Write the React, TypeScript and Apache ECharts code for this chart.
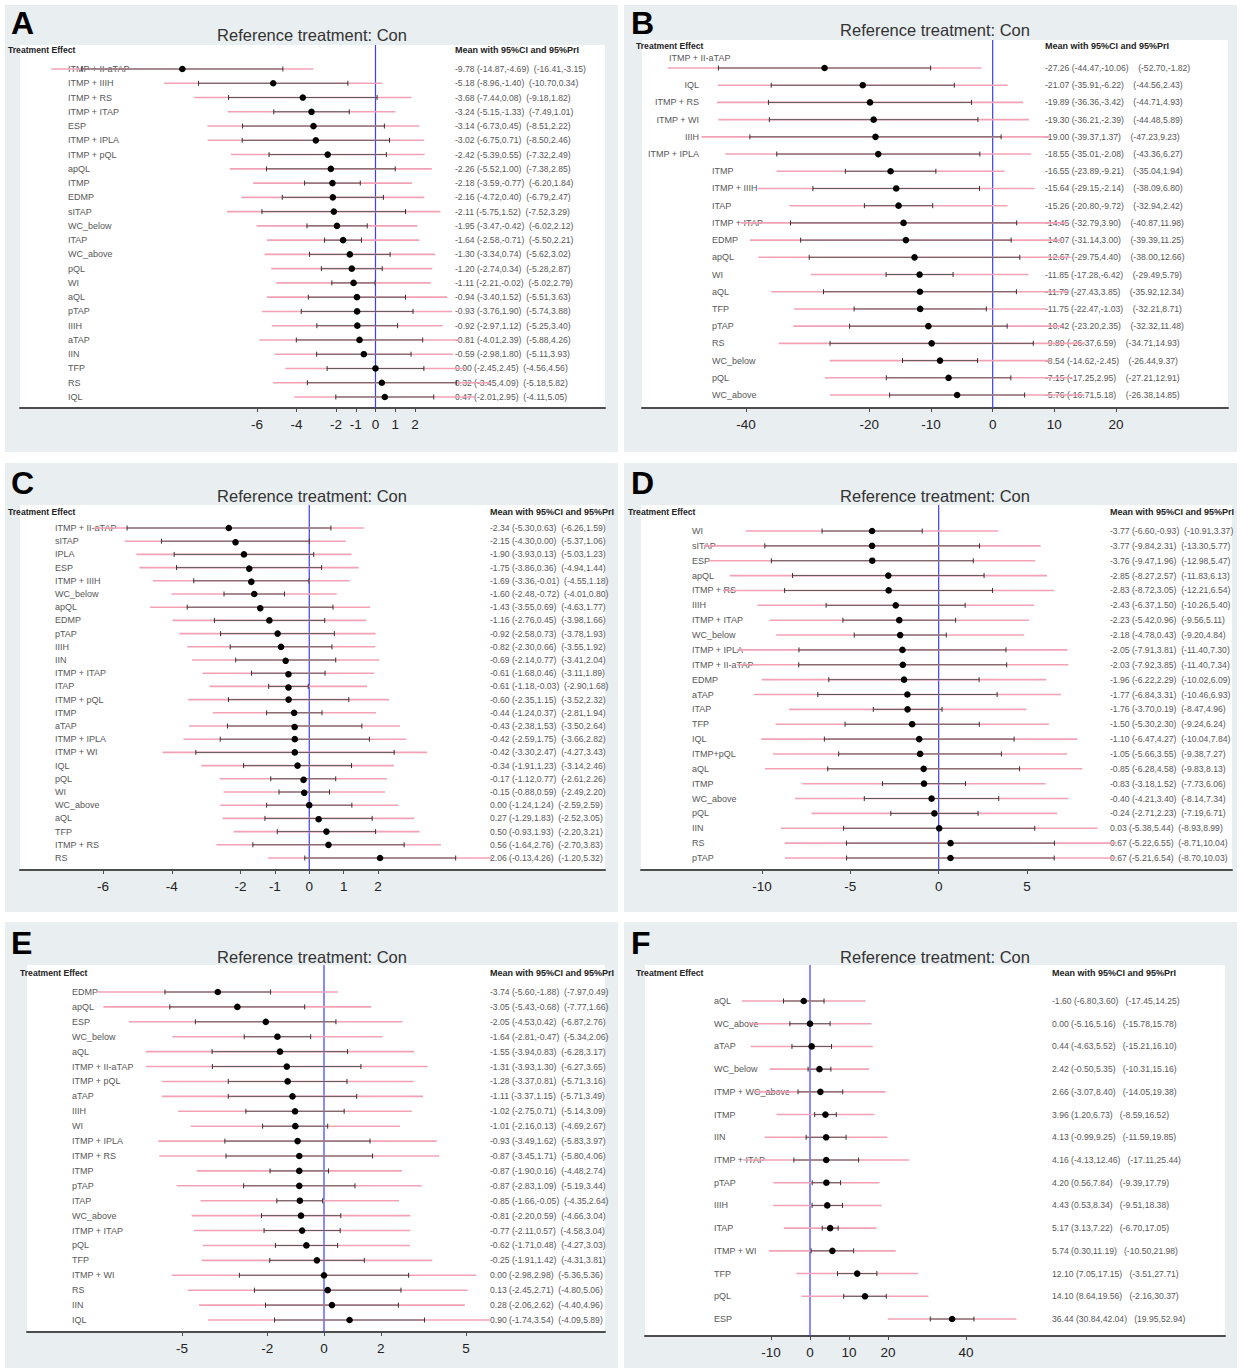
import React, { useEffect, useRef } from "react";
import * as echarts from "echarts";

// ---------- DATA ----------
// each est row: [mean, ciLow, ciHigh, priLow, priHigh]
const A_NAMES = ["ITMP + II-aTAP", "ITMP + IIIH", "ITMP + RS", "ITMP + ITAP", "ESP", "ITMP + IPLA", "ITMP + pQL", "apQL", "ITMP", "EDMP", "sITAP", "WC_below", "ITAP", "WC_above", "pQL", "WI", "aQL", "pTAP", "IIIH", "aTAP", "IIN", "TFP", "RS", "IQL"];
const A_EST = [
  [-9.78, -14.87, -4.69, -16.41, -3.15], [-5.18, -8.96, -1.4, -10.7, 0.34], [-3.68, -7.44, 0.08, -9.18, 1.82],
  [-3.24, -5.15, -1.33, -7.49, 1.01], [-3.14, -6.73, 0.45, -8.51, 2.22], [-3.02, -6.75, 0.71, -8.5, 2.46],
  [-2.42, -5.39, 0.55, -7.32, 2.49], [-2.26, -5.52, 1.0, -7.38, 2.85], [-2.18, -3.59, -0.77, -6.2, 1.84],
  [-2.16, -4.72, 0.4, -6.79, 2.47], [-2.11, -5.75, 1.52, -7.52, 3.29], [-1.95, -3.47, -0.42, -6.02, 2.12],
  [-1.64, -2.58, -0.71, -5.5, 2.21], [-1.3, -3.34, 0.74, -5.62, 3.02], [-1.2, -2.74, 0.34, -5.28, 2.87],
  [-1.11, -2.21, -0.02, -5.02, 2.79], [-0.94, -3.4, 1.52, -5.51, 3.63], [-0.93, -3.76, 1.9, -5.74, 3.88],
  [-0.92, -2.97, 1.12, -5.25, 3.4], [-0.81, -4.01, 2.39, -5.88, 4.26], [-0.59, -2.98, 1.8, -5.11, 3.93],
  [0.0, -2.45, 2.45, -4.56, 4.56], [0.32, -3.45, 4.09, -5.18, 5.82], [0.47, -2.01, 2.95, -4.11, 5.05],
];
const A_TICKS = [-6, -4, -2, -1, 0, 1, 2];

const B_NAMES = ["ITMP + II-aTAP", "IQL", "ITMP + RS", "ITMP + WI", "IIIH", "ITMP + IPLA", "ITMP", "ITMP + IIIH", "ITAP", "ITMP + ITAP", "EDMP", "apQL", "WI", "aQL", "TFP", "pTAP", "RS", "WC_below", "pQL", "WC_above"];
const B_EST = [
  [-27.26, -44.47, -10.06, -52.7, -1.82], [-21.07, -35.91, -6.22, -44.56, 2.43], [-19.89, -36.36, -3.42, -44.71, 4.93],
  [-19.3, -36.21, -2.39, -44.48, 5.89], [-19.0, -39.37, 1.37, -47.23, 9.23], [-18.55, -35.01, -2.08, -43.36, 6.27],
  [-16.55, -23.89, -9.21, -35.04, 1.94], [-15.64, -29.15, -2.14, -38.09, 6.8], [-15.26, -20.8, -9.72, -32.94, 2.42],
  [-14.45, -32.79, 3.9, -40.87, 11.98], [-14.07, -31.14, 3.0, -39.39, 11.25], [-12.67, -29.75, 4.4, -38.0, 12.66],
  [-11.85, -17.28, -6.42, -29.49, 5.79], [-11.79, -27.43, 3.85, -35.92, 12.34], [-11.75, -22.47, -1.03, -32.21, 8.71],
  [-10.42, -23.2, 2.35, -32.32, 11.48], [-9.89, -26.37, 6.59, -34.71, 14.93], [-8.54, -14.62, -2.45, -26.44, 9.37],
  [-7.15, -17.25, 2.95, -27.21, 12.91], [-5.76, -16.71, 5.18, -26.38, 14.85],
];
const B_TICKS = [-40, -20, -10, 0, 10, 20];

const C_NAMES = ["ITMP + II-aTAP", "sITAP", "IPLA", "ESP", "ITMP + IIIH", "WC_below", "apQL", "EDMP", "pTAP", "IIIH", "IIN", "ITMP + ITAP", "ITAP", "ITMP + pQL", "ITMP", "aTAP", "ITMP + IPLA", "ITMP + WI", "IQL", "pQL", "WI", "WC_above", "aQL", "TFP", "ITMP + RS", "RS"];
const C_EST = [
  [-2.34, -5.3, 0.63, -6.26, 1.59], [-2.15, -4.3, 0.0, -5.37, 1.06], [-1.9, -3.93, 0.13, -5.03, 1.23],
  [-1.75, -3.86, 0.36, -4.94, 1.44], [-1.69, -3.36, -0.01, -4.55, 1.18], [-1.6, -2.48, -0.72, -4.01, 0.8],
  [-1.43, -3.55, 0.69, -4.63, 1.77], [-1.16, -2.76, 0.45, -3.98, 1.66], [-0.92, -2.58, 0.73, -3.78, 1.93],
  [-0.82, -2.3, 0.66, -3.55, 1.92], [-0.69, -2.14, 0.77, -3.41, 2.04], [-0.61, -1.68, 0.46, -3.11, 1.89],
  [-0.61, -1.18, -0.03, -2.9, 1.68], [-0.6, -2.35, 1.15, -3.52, 2.32], [-0.44, -1.24, 0.37, -2.81, 1.94],
  [-0.43, -2.38, 1.53, -3.5, 2.64], [-0.42, -2.59, 1.75, -3.66, 2.82], [-0.42, -3.3, 2.47, -4.27, 3.43],
  [-0.34, -1.91, 1.23, -3.14, 2.46], [-0.17, -1.12, 0.77, -2.61, 2.26], [-0.15, -0.88, 0.59, -2.49, 2.2],
  [0.0, -1.24, 1.24, -2.59, 2.59], [0.27, -1.29, 1.83, -2.52, 3.05], [0.5, -0.93, 1.93, -2.2, 3.21],
  [0.56, -1.64, 2.76, -2.7, 3.83], [2.06, -0.13, 4.26, -1.2, 5.32],
];
const C_TICKS = [-6, -4, -2, -1, 0, 1, 2];

const D_NAMES = ["WI", "sITAP", "ESP", "apQL", "ITMP + RS", "IIIH", "ITMP + ITAP", "WC_below", "ITMP + IPLA", "ITMP + II-aTAP", "EDMP", "aTAP", "ITAP", "TFP", "IQL", "ITMP+pQL", "aQL", "ITMP", "WC_above", "pQL", "IIN", "RS", "pTAP"];
const D_EST = [
  [-3.77, -6.6, -0.93, -10.91, 3.37], [-3.77, -9.84, 2.31, -13.3, 5.77], [-3.76, -9.47, 1.96, -12.98, 5.47],
  [-2.85, -8.27, 2.57, -11.83, 6.13], [-2.83, -8.72, 3.05, -12.21, 6.54], [-2.43, -6.37, 1.5, -10.26, 5.4],
  [-2.23, -5.42, 0.96, -9.56, 5.11], [-2.18, -4.78, 0.43, -9.2, 4.84], [-2.05, -7.91, 3.81, -11.4, 7.3],
  [-2.03, -7.92, 3.85, -11.4, 7.34], [-1.96, -6.22, 2.29, -10.02, 6.09], [-1.77, -6.84, 3.31, -10.46, 6.93],
  [-1.76, -3.7, 0.19, -8.47, 4.96], [-1.5, -5.3, 2.3, -9.24, 6.24], [-1.1, -6.47, 4.27, -10.04, 7.84],
  [-1.05, -5.66, 3.55, -9.38, 7.27], [-0.85, -6.28, 4.58, -9.83, 8.13], [-0.83, -3.18, 1.52, -7.73, 6.06],
  [-0.4, -4.21, 3.4, -8.14, 7.34], [-0.24, -2.71, 2.23, -7.19, 6.71], [0.03, -5.38, 5.44, -8.93, 8.99],
  [0.67, -5.22, 6.55, -8.71, 10.04], [0.67, -5.21, 6.54, -8.7, 10.03],
];
const D_TICKS = [-10, -5, 0, 5];

const E_NAMES = ["EDMP", "apQL", "ESP", "WC_below", "aQL", "ITMP + II-aTAP", "ITMP + pQL", "aTAP", "IIIH", "WI", "ITMP + IPLA", "ITMP + RS", "ITMP", "pTAP", "ITAP", "WC_above", "ITMP + ITAP", "pQL", "TFP", "ITMP + WI", "RS", "IIN", "IQL"];
const E_EST = [
  [-3.74, -5.6, -1.88, -7.97, 0.49], [-3.05, -5.43, -0.68, -7.77, 1.66], [-2.05, -4.53, 0.42, -6.87, 2.76],
  [-1.64, -2.81, -0.47, -5.34, 2.06], [-1.55, -3.94, 0.83, -6.28, 3.17], [-1.31, -3.93, 1.3, -6.27, 3.65],
  [-1.28, -3.37, 0.81, -5.71, 3.16], [-1.11, -3.37, 1.15, -5.71, 3.49], [-1.02, -2.75, 0.71, -5.14, 3.09],
  [-1.01, -2.16, 0.13, -4.69, 2.67], [-0.93, -3.49, 1.62, -5.83, 3.97], [-0.87, -3.45, 1.71, -5.8, 4.06],
  [-0.87, -1.9, 0.16, -4.48, 2.74], [-0.87, -2.83, 1.09, -5.19, 3.44], [-0.85, -1.66, -0.05, -4.35, 2.64],
  [-0.81, -2.2, 0.59, -4.66, 3.04], [-0.77, -2.11, 0.57, -4.58, 3.04], [-0.62, -1.71, 0.48, -4.27, 3.03],
  [-0.25, -1.91, 1.42, -4.31, 3.81], [0.0, -2.98, 2.98, -5.36, 5.36], [0.13, -2.45, 2.71, -4.8, 5.06],
  [0.28, -2.06, 2.62, -4.4, 4.96], [0.9, -1.74, 3.54, -4.09, 5.89],
];
const E_TICKS = [-5, -2, 0, 2, 5];

const F_NAMES = ["aQL", "WC_above", "aTAP", "WC_below", "ITMP + WC_above", "ITMP", "IIN", "ITMP + ITAP", "pTAP", "IIIH", "ITAP", "ITMP + WI", "TFP", "pQL", "ESP"];
const F_EST = [
  [-1.6, -6.8, 3.6, -17.45, 14.25], [0.0, -5.16, 5.16, -15.78, 15.78], [0.44, -4.63, 5.52, -15.21, 16.1],
  [2.42, -0.5, 5.35, -10.31, 15.16], [2.66, -3.07, 8.4, -14.05, 19.38], [3.96, 1.2, 6.73, -8.59, 16.52],
  [4.13, -0.99, 9.25, -11.59, 19.85], [4.16, -4.13, 12.46, -17.11, 25.44], [4.2, 0.56, 7.84, -9.39, 17.79],
  [4.43, 0.53, 8.34, -9.51, 18.38], [5.17, 3.13, 7.22, -6.7, 17.05], [5.74, 0.3, 11.19, -10.5, 21.98],
  [12.1, 7.05, 17.15, -3.51, 27.71], [14.1, 8.64, 19.56, -2.16, 30.37], [36.44, 30.84, 42.04, 19.95, 52.94],
];
const F_TICKS = [-10, 0, 10, 20, 40];

const TITLE = "Reference treatment: Con";
const HEADER_LEFT = "Treatment Effect";
const HEADER_RIGHT = "Mean with 95%CI and 95%PrI";

// ---------- LAYOUT / STYLE ----------
const FONT = "'Liberation Sans', Arial, sans-serif";
const PINK = "#f2a2b4";
const BLUE = "#3c3cff";
const PANEL_BG = "#e9eef1";

type Layout = {
  box: [number, number, number, number];
  gl: number; gr: number; gt: number; gb: number;
  t1: [number, number]; t2: [number, number];
  y0: number; yN: number;
  labelX: number; valX: number; valGap: string;
  hdrY: number; hdrLX: number;
  titleX: number; titleY: number;
  letterX: number; letterY: number;
  rightRows?: number; rightX?: number; firstX?: number;
};

const PANELS: { letter: string; names: string[]; est: number[][]; ticks: number[]; L: Layout }[] = [
  { letter: "A", names: A_NAMES, est: A_EST, ticks: A_TICKS, L: { box: [5, 5, 613, 447], gl: 20, gr: 605, gt: 45, gb: 408, t1: [-6, 257], t2: [2, 415], y0: 69, yN: 397, labelX: 68, valX: 455, valGap: "\u00a0 ", hdrY: 50, hdrLX: 8, titleX: 312, titleY: 35, letterX: 11, letterY: 7 } },
  { letter: "B", names: B_NAMES, est: B_EST, ticks: B_TICKS, L: { box: [624, 5, 613, 447], gl: 642, gr: 1228, gt: 40, gb: 408, t1: [-40, 746], t2: [20, 1116], y0: 68, yN: 395, labelX: 712, valX: 1045, valGap: "\u00a0\u00a0\u00a0 ", hdrY: 46, hdrLX: 636, titleX: 935, titleY: 30, letterX: 631, letterY: 7, rightRows: 6, rightX: 699, firstX: 669 } },
  { letter: "C", names: C_NAMES, est: C_EST, ticks: C_TICKS, L: { box: [5, 463, 613, 449], gl: 20, gr: 605, gt: 505, gb: 870, t1: [-6, 103], t2: [2, 378], y0: 528, yN: 858, labelX: 55, valX: 490, valGap: "\u00a0 ", hdrY: 512, hdrLX: 8, titleX: 312, titleY: 496, letterX: 11, letterY: 467 } },
  { letter: "D", names: D_NAMES, est: D_EST, ticks: D_TICKS, L: { box: [624, 463, 613, 449], gl: 641, gr: 1232, gt: 505, gb: 870, t1: [-10, 762], t2: [5, 1027], y0: 531, yN: 858, labelX: 692, valX: 1110, valGap: "\u00a0 ", hdrY: 512, hdrLX: 628, titleX: 935, titleY: 496, letterX: 631, letterY: 467 } },
  { letter: "E", names: E_NAMES, est: E_EST, ticks: E_TICKS, L: { box: [5, 922, 613, 446], gl: 27, gr: 605, gt: 965, gb: 1332, t1: [-5, 182], t2: [5, 466], y0: 992, yN: 1320, labelX: 72, valX: 490, valGap: "\u00a0 ", hdrY: 973, hdrLX: 20, titleX: 312, titleY: 957, letterX: 11, letterY: 927 } },
  { letter: "F", names: F_NAMES, est: F_EST, ticks: F_TICKS, L: { box: [624, 922, 613, 446], gl: 645, gr: 1225, gt: 965, gb: 1336, t1: [-10, 771], t2: [40, 966], y0: 1001, yN: 1319, labelX: 714, valX: 1052, valGap: "\u00a0\u00a0 ", hdrY: 973, hdrLX: 636, titleX: 935, titleY: 957, letterX: 631, letterY: 927 } },
];

const f2 = (v: number) => v.toFixed(2);

function buildOption() {
  const grid: any[] = [];
  const xAxis: any[] = [];
  const yAxis: any[] = [];
  const series: any[] = [];
  const graphic: any[] = [];

  PANELS.forEach((p, k) => {
    const L = p.L;
    const n = p.names.length;
    const scale = (L.t2[1] - L.t1[1]) / (L.t2[0] - L.t1[0]);
    const xmin = L.t1[0] + (L.gl - L.t1[1]) / scale;
    const xmax = L.t1[0] + (L.gr - L.t1[1]) / scale;
    const step = (L.yN - L.y0) / (n - 1);
    const ymin = -(L.y0 - L.gt) / step;
    const ymax = n - 1 + (L.gb - L.yN) / step;

    grid.push({
      left: L.gl, top: L.gt, width: L.gr - L.gl, height: L.gb - L.gt,
      show: true, backgroundColor: "#ffffff", borderWidth: 0,
      containLabel: false, outerBoundsMode: "none",
    });
    xAxis.push({
      type: "value", gridIndex: k, min: xmin, max: xmax,
      axisLine: { show: true, onZero: false, lineStyle: { color: "#4d4d4d", width: 2 } },
      axisTick: { show: true, customValues: p.ticks, length: 4, lineStyle: { color: "#4d4d4d" } },
      axisLabel: { customValues: p.ticks, fontSize: 13.5, color: "#222", margin: 9, fontFamily: FONT },
      splitLine: { show: false },
    });
    yAxis.push({ type: "value", gridIndex: k, min: ymin, max: ymax, inverse: true, show: false });

    series.push({
      type: "line", xAxisIndex: k, yAxisIndex: k, silent: true, z: 1,
      data: [[0, ymin], [0, ymax]], symbol: "none",
      lineStyle: { color: BLUE, width: 1.2 },
    });

    series.push({
      type: "custom", xAxisIndex: k, yAxisIndex: k, silent: true, z: 2,
      data: p.est.map((e, i) => [i, ...e]),
      renderItem: (params: any, api: any) => {
        const i = api.value(0) as number;
        const m = api.value(1) as number;
        const cl = api.value(2) as number;
        const ch = api.value(3) as number;
        const pl = api.value(4) as number;
        const ph = api.value(5) as number;
        const pt = api.coord([m, i]);
        const y = pt[1];
        const xm = pt[0];
        const xcl = api.coord([cl, i])[0];
        const xch = api.coord([ch, i])[0];
        const xpl = api.coord([pl, i])[0];
        const xph = api.coord([ph, i])[0];

        let lx = L.labelX;
        let ly = y;
        let align = "left";
        if (L.rightRows && i < L.rightRows) {
          if (i === 0 && L.firstX) {
            lx = L.firstX; ly = y - 10; align = "left";
          } else {
            lx = L.rightX as number; align = "right";
          }
        }
        const valText = `${f2(m)} (${f2(cl)},${f2(ch)})${L.valGap}(${f2(pl)},${f2(ph)})`;
        return {
          type: "group",
          children: [
            { type: "text", x: lx, y: ly, style: { text: p.names[i], fill: "#585858", fontSize: 9, fontFamily: FONT, align, verticalAlign: "middle" } },
            { type: "text", x: L.valX, y, style: { text: valText, fill: "#585858", fontSize: 8.6, fontFamily: FONT, align: "left", verticalAlign: "middle" } },
            { type: "line", shape: { x1: xpl, y1: y, x2: xph, y2: y }, style: { stroke: PINK, lineWidth: 1.6 } },
            { type: "line", shape: { x1: xcl, y1: y, x2: xch, y2: y }, style: { stroke: "#5a5a5a", lineWidth: 1 } },
            { type: "line", shape: { x1: xcl, y1: y - 2.5, x2: xcl, y2: y + 2.5 }, style: { stroke: "#333", lineWidth: 1 } },
            { type: "line", shape: { x1: xch, y1: y - 2.5, x2: xch, y2: y + 2.5 }, style: { stroke: "#333", lineWidth: 1 } },
            { type: "circle", shape: { cx: xm, cy: y, r: 3.3 }, style: { fill: "#000" } },
          ],
        };
      },
    });

    graphic.push(
      { type: "text", x: L.letterX, y: L.letterY, style: { text: p.letter, fill: "#000", fontSize: 32, fontWeight: "bold", fontFamily: FONT, align: "left", verticalAlign: "top" } },
      { type: "text", x: L.titleX, y: L.titleY, style: { text: TITLE, fill: "#333", fontSize: 16.5, fontFamily: FONT, align: "center", verticalAlign: "middle" } },
      { type: "text", x: L.hdrLX, y: L.hdrY, style: { text: HEADER_LEFT, fill: "#222", fontSize: 8.6, fontWeight: "bold", fontFamily: FONT, align: "left", verticalAlign: "middle" } },
      { type: "text", x: L.valX, y: L.hdrY, style: { text: HEADER_RIGHT, fill: "#222", fontSize: 9, fontWeight: "bold", fontFamily: FONT, align: "left", verticalAlign: "middle" } },
    );
  });

  return { animation: false, grid, xAxis, yAxis, series, graphic: { elements: graphic } };
}

export default function App() {
  const ref = useRef<HTMLDivElement>(null);
  useEffect(() => {
    if (!ref.current) return;
    const chart = echarts.init(ref.current, undefined, { renderer: "svg" });
    chart.setOption(buildOption() as any);
    return () => chart.dispose();
  }, []);
  return (
    <div style={{ position: "absolute", left: 0, top: 0, width: 1242, height: 1371, background: "#fff" }}>
      {PANELS.map((p) => (
        <div
          key={p.letter}
          style={{ position: "absolute", left: p.L.box[0], top: p.L.box[1], width: p.L.box[2], height: p.L.box[3], background: PANEL_BG }}
        />
      ))}
      <div ref={ref} style={{ position: "absolute", left: 0, top: 0, width: 1242, height: 1371 }} />
    </div>
  );
}
